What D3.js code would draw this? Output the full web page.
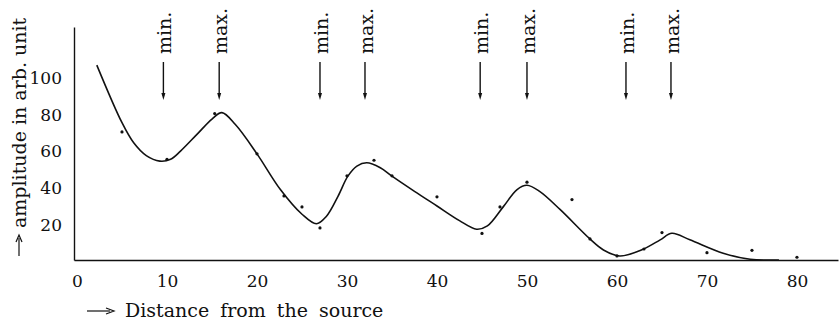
<!DOCTYPE html>
<html>
<head>
<meta charset="utf-8">
<script src="https://cdn.jsdelivr.net/npm/d3@7"></script>
<style>
    body { margin: 0; background: #fff; }
    text { font-family: 'DejaVu Serif', serif; fill: #111; }
</style>
</head>
<body>
<svg id="chart" width="840" height="322"></svg>
<script>
// measured points
let dotX = [5, 10, 15.3, 20, 23, 25, 27, 30, 33, 35, 40, 45, 47, 50, 55, 57, 60, 63, 65, 70, 75, 80]
let dotY = [70, 55, 80, 58, 35, 29, 17.5, 46, 54.5, 46, 34.5, 14.5, 29, 42.5, 33, 11.5, 2.2, 6, 15, 4, 5.3, 1.5]

// fitted curve
let curveX = [2.2, 5, 6.3, 7.7, 9.2, 10.4, 11.5, 13.3, 15, 16.1, 17.6, 20, 22.6, 25, 26.6, 27.7, 29, 30.1, 31.1, 32.2, 33.7, 35, 37.5, 40, 42.5, 44.4,
    45.6, 47.4, 48.9, 50, 51.4, 53.7, 57, 58.5, 60.3, 62.9, 64.8, 66.1, 68.1, 71.8, 74.8, 78]
let curveY = [106.5, 75, 64, 57, 54, 55, 59.5, 68.5, 77, 80.5, 74, 58, 38.5, 25, 19.8, 23.8, 34.8, 45.8, 51.3, 53.1, 50.4, 45.8, 37.5, 29.5, 21.5, 16.8,
    18.6, 29.3, 38.5, 40.8, 37.5, 27.5, 11.5, 5.5, 2.2, 5.9, 11, 14.6, 11, 3.7, 0.4, 0]

// extrema markers
let markX = [9.6, 15.8, 27, 32, 44.8, 50, 61, 66]
let markLabels = ['min.', 'max.', 'min.', 'max.', 'min.', 'max.', 'min.', 'max.']

// axis ticks
let xTicks = [0, 10, 20, 30, 40, 50, 60, 70, 80]
let yTicks = [20, 40, 60, 80, 100]

let xTitle = 'Distance from the source'
let yTitle = 'amplitude in arb. unit'

let svg = d3.select('#chart')

let x = d3.scaleLinear().domain([-1 / 3, 84.56]).range([74, 838])
let y = d3.scaleLinear().domain([0, 127.3]).range([260, 27])

// axes
let xAxis = svg.append('g').attr('transform', 'translate(0,' + y(0) + ')')
    .call(d3.axisBottom(x).tickValues(xTicks).tickSize(0).tickPadding(15).tickSizeOuter(0))
let yAxis = svg.append('g').attr('transform', 'translate(' + x.range()[0] + ',0)')
    .call(d3.axisLeft(y).tickValues(yTicks).tickSize(0).tickPadding(12).tickSizeOuter(0))
xAxis.select('.domain').attr('stroke', '#111').attr('stroke-width', 1.4)
yAxis.select('.domain').attr('stroke', '#111').attr('stroke-width', 1.4)
xAxis.selectAll('text').attr('font-size', 17).attr('font-family', 'DejaVu Serif').attr('fill', '#111')
yAxis.selectAll('text').attr('font-size', 17).attr('font-family', 'DejaVu Serif').attr('fill', '#111').attr('dy', '0.4em')

// curve
let pts = curveX.map((d, i) => [d, curveY[i]])
let line = d3.line().x(d => x(d[0])).y(d => y(d[1])).curve(d3.curveCatmullRom.alpha(0.5))
svg.append('path').datum(pts)
    .attr('d', line)
    .attr('fill', 'none')
    .attr('stroke', '#111')
    .attr('stroke-width', 1.6)

// dots
svg.append('g').selectAll('circle').data(dotX).join('circle')
    .attr('cx', d => x(d))
    .attr('cy', (d, i) => y(dotY[i]))
    .attr('r', 1.6)
    .attr('fill', '#111')

// min / max arrows
let marks = svg.append('g').selectAll('g').data(markX).join('g')
    .attr('transform', d => 'translate(' + x(d) + ',0)')
marks.append('line')
    .attr('x1', 0).attr('x2', 0)
    .attr('y1', 62).attr('y2', 96)
    .attr('stroke', '#111').attr('stroke-width', 1.4)
marks.append('path')
    .attr('d', 'M-2,93 L2,93 L0,100 Z')
    .attr('fill', '#111')
marks.append('text')
    .attr('transform', 'translate(8,54) rotate(-90)')
    .attr('font-size', 19)
    .text((d, i) => markLabels[i])

// x title
svg.append('line').attr('x1', 87).attr('x2', 110).attr('y1', 311).attr('y2', 311)
    .attr('stroke', '#111').attr('stroke-width', 1.2)
svg.append('path').attr('d', 'M106,308 L114,311 L106,314').attr('fill', 'none')
    .attr('stroke', '#111').attr('stroke-width', 1.2)
svg.append('text')
    .attr('x', 125).attr('y', 317)
    .attr('font-size', 19)
    .attr('word-spacing', 5)
    .text(xTitle)

// y title
svg.append('line').attr('x1', 19).attr('x2', 19).attr('y1', 256).attr('y2', 238)
    .attr('stroke', '#111').attr('stroke-width', 1.2)
svg.append('path').attr('d', 'M16,242 L19,235 L22,242').attr('fill', 'none')
    .attr('stroke', '#111').attr('stroke-width', 1.2)
svg.append('text')
    .attr('transform', 'translate(26,228) rotate(-90)')
    .attr('font-size', 19)
    .text(yTitle)
</script>
</body>
</html>
